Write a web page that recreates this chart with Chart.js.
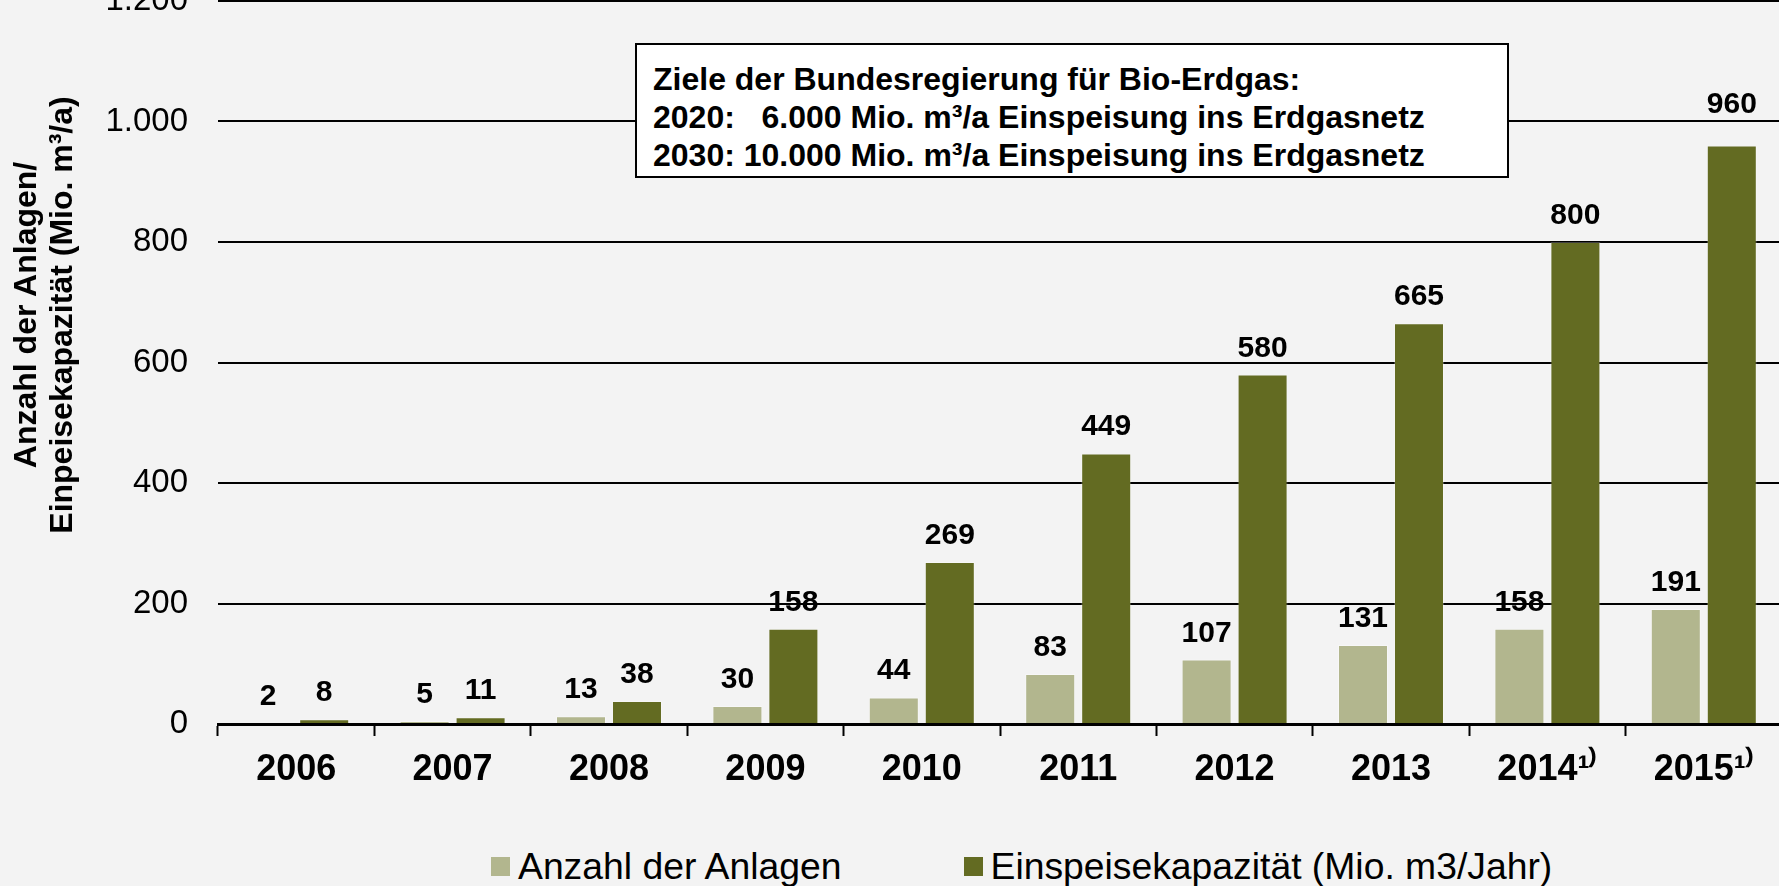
<!DOCTYPE html>
<html>
<head>
<meta charset="utf-8">
<script src="https://cdn.jsdelivr.net/npm/chart.js@4.4.1/dist/chart.umd.min.js"></script>
<style>
html,body{margin:0;padding:0;background:#f3f3f3;width:1779px;height:886px;overflow:hidden;position:relative;font-family:'Liberation Sans',Arial,sans-serif;color:#000;}
#wrap{position:absolute;left:0;top:-30px;width:1800px;height:860px;}
#ytitle{position:absolute;left:-257px;top:279px;width:600px;height:72px;transform:rotate(-90deg);text-align:center;font-weight:bold;font-size:32px;line-height:36px;white-space:nowrap;}
#note{position:absolute;left:635px;top:43px;width:874px;height:135px;box-sizing:border-box;border:2px solid #000;background:#fff;padding:15px 0 0 16px;font-weight:bold;font-size:32px;line-height:38px;white-space:pre;}
#legend{position:absolute;left:491px;top:848px;display:flex;gap:122px;font-size:37.3px;line-height:36px;}
.item{display:flex;align-items:center;white-space:nowrap;}
.sw{width:19px;height:19px;margin-right:8px;flex:none;}
</style>
</head>
<body>
<div id="wrap"><canvas id="c"></canvas></div>
<div id="ytitle"></div>
<div id="note"></div>
<div id="legend"></div>
<script>
// ---- data ----
const categories = ['2006','2007','2008','2009','2010','2011','2012','2013','2014¹⁾','2015¹⁾'];
const anlagen    = [2, 5, 13, 30, 44, 83, 107, 131, 158, 191];
const kapazitaet = [8, 11, 38, 158, 269, 449, 580, 665, 800, 960];
const seriesNames = ['Anzahl der Anlagen', 'Einspeisekapazität (Mio. m3/Jahr)'];
const yMin = 0, yMax = 1200, yStep = 200;
const yTitleLines = ['Anzahl der Anlagen/', 'Einpeisekapazität (Mio. m³/a)'];
const noteLines = [
  'Ziele der Bundesregierung für Bio-Erdgas:',
  '2020:   6.000 Mio. m³/a Einspeisung ins Erdgasnetz',
  '2030: 10.000 Mio. m³/a Einspeisung ins Erdgasnetz'
];

// ---- styles ----
const colors = ['#b2b68e', '#636b22'];
const FONT = "'Liberation Sans', Arial, sans-serif";
const labelGap = 18;
const extraLift = {'1-9': 15};

document.getElementById('ytitle').innerHTML = yTitleLines.map(t => '<div>' + t + '</div>').join('');
document.getElementById('note').textContent = noteLines.join('\n');
document.getElementById('legend').innerHTML = seriesNames.map((n, i) =>
  '<div class="item"><span class="sw" style="background:' + colors[i] + '"></span><span>' + n + '</span></div>').join('');

const fmt = v => String(v).replace(/\B(?=(\d{3})+(?!\d))/g, '.');

const valueLabels = {
  id: 'valueLabels',
  afterDatasetsDraw(chart) {
    const ctx = chart.ctx;
    ctx.save();
    ctx.font = 'bold 30px ' + FONT;
    ctx.fillStyle = '#000';
    ctx.textAlign = 'center';
    ctx.textBaseline = 'alphabetic';
    chart.data.datasets.forEach((ds, di) => {
      chart.getDatasetMeta(di).data.forEach((el, i) => {
        const lift = labelGap + (extraLift[di + '-' + i] || 0);
        ctx.fillText(fmt(ds.data[i]), el.x, el.y - lift);
      });
    });
    ctx.restore();
  }
};

new Chart(document.getElementById('c'), {
  type: 'bar',
  data: {
    labels: categories,
    datasets: [
      {label: seriesNames[0], data: anlagen, backgroundColor: colors[0], borderColor: 'rgba(255,255,255,0.35)', borderWidth: 1},
      {label: seriesNames[1], data: kapazitaet, backgroundColor: colors[1], borderColor: 'rgba(255,255,255,0.25)', borderWidth: 1}
    ]
  },
  options: {
    responsive: true,
    maintainAspectRatio: false,
    animation: false,
    devicePixelRatio: 1,
    layout: {padding: {top: 31, right: 18, left: 0, bottom: 0}},
    datasets: {bar: {categoryPercentage: 0.716, barPercentage: 0.893}},
    plugins: {legend: {display: false}, tooltip: {enabled: false}, title: {display: false}},
    scales: {
      x: {
        grid: {display: true, drawOnChartArea: false, drawTicks: true, tickLength: 12, tickWidth: 2, tickColor: '#000', offset: true},
        border: {display: true, color: '#000', width: 3},
        ticks: {color: '#000', padding: 12, font: {family: FONT, size: 36, weight: 'bold'}, maxRotation: 0, autoSkip: false},
        afterFit: s => { s.height = 106; }
      },
      y: {
        min: yMin, max: yMax,
        grid: {color: '#000', lineWidth: 2, drawTicks: true, tickLength: 30, tickColor: 'rgba(0,0,0,0)'},
        border: {display: false},
        ticks: {stepSize: yStep, color: '#000', padding: 0, font: {family: FONT, size: 33}, callback: v => fmt(v)},
        afterFit: s => { s.width = 218; }
      }
    }
  },
  plugins: [valueLabels]
});
</script>
</body>
</html>
